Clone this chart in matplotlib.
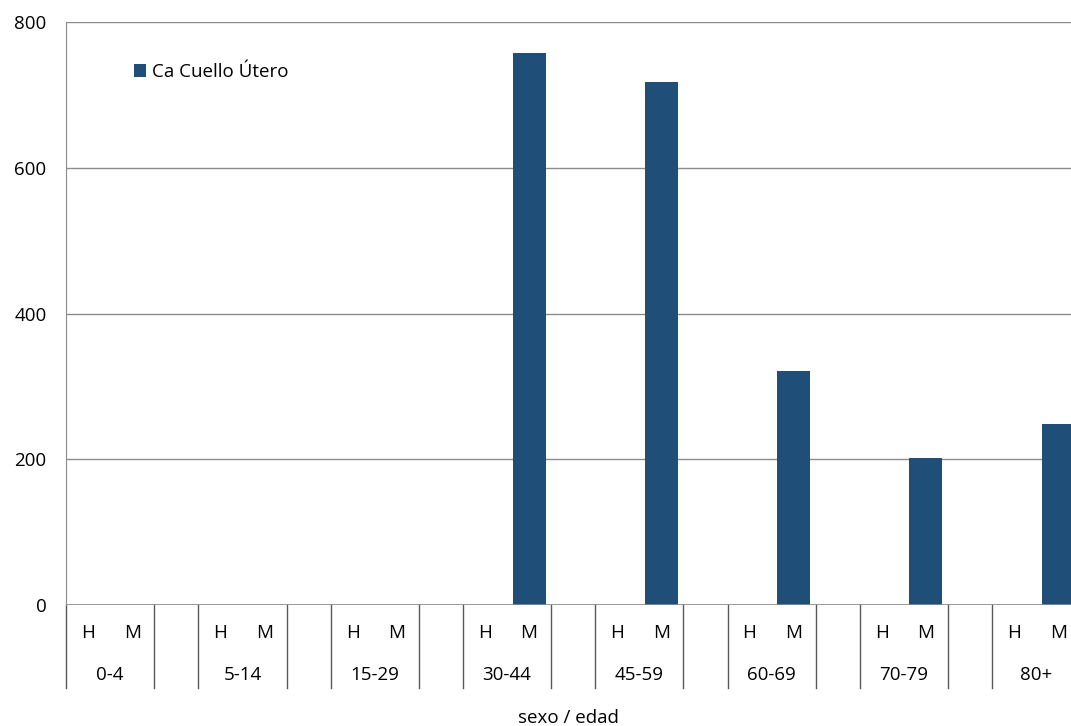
import numpy as np
import matplotlib.pyplot as plt
import matplotlib.transforms as mtransforms

# Data
grupos = ["0-4", "5-14", "15-29", "30-44", "45-59", "60-69", "70-79", "80+"]
sexos = ["H", "M"]
valores_h = [0, 0, 0, 0, 0, 0, 0, 0]
valores_m = [0, 0, 0, 757, 718, 321, 202, 248]

COLOR = "#1F4E79"
FONT = ["Open Sans", "DejaVu Sans"]
FS = 13.5
W, H = 1071, 726

plt.rcParams["font.family"] = FONT

fig = plt.figure(figsize=(W / 100, H / 100), dpi=100)
left_px, right_px, top_px, base_px = 66, 1071, 22, 605
ax = fig.add_axes([left_px / W, (H - base_px) / H,
                   (right_px - left_px) / W, (base_px - top_px) / H])

slot = 44.1
n_slots = (right_px - left_px) / slot
x_h = np.arange(len(grupos)) * 3 + 0.5
x_m = x_h + 1

ax.bar(x_h, valores_h, width=0.75, color=COLOR, zorder=3)
ax.bar(x_m, valores_m, width=0.75, color=COLOR, zorder=3,
       label="Ca Cuello Útero")

ax.set_xlim(0, n_slots)
ax.set_ylim(0, 800)
ax.set_yticks([0, 200, 400, 600, 800])
ax.tick_params(axis="y", length=0, labelsize=FS, pad=14, colors="black")
for lbl in ax.get_yticklabels():
    lbl.set_va("center_baseline")
ax.set_xticks([])
ax.yaxis.grid(True, color="#8c8c8c", linewidth=1)
ax.set_axisbelow(True)
for s in ["top", "right", "bottom"]:
    ax.spines[s].set_visible(False)
ax.spines["left"].set_color("#8c8c8c")
ax.axhline(0, color="#8c8c8c", linewidth=1.2, zorder=4)

trans = mtransforms.blended_transform_factory(ax.transData, ax.transAxes)
span = base_px - top_px
y_low = -(688 - base_px) / span
y_sex = -(633 - base_px) / span
y_grp = -(675 - base_px) / span

# separators under the axis
for i in range(len(grupos)):
    for xs in (i * 3, i * 3 + 2):
        ax.plot([xs, xs], [0, y_low], transform=trans, color="#595959",
                linewidth=1, clip_on=False)

for i, g in enumerate(grupos):
    ax.text(x_h[i], y_sex, sexos[0], transform=trans, ha="center", va="center",
            fontsize=FS, clip_on=False)
    ax.text(x_m[i], y_sex, sexos[1], transform=trans, ha="center", va="center",
            fontsize=FS, clip_on=False)
    ax.text(i * 3 + 1, y_grp, g, transform=trans, ha="center", va="center",
            fontsize=FS, clip_on=False)

ax.text(0.5, -(718 - base_px) / span, "sexo / edad", transform=ax.transAxes,
        ha="center", va="center", fontsize=FS)

ax.legend(loc="center left",
          bbox_to_anchor=((134 - left_px) / (right_px - left_px),
                          1 - (72 - top_px) / span),
          frameon=False, fontsize=FS, handlelength=0.65, handleheight=0.65,
          handletextpad=0.3, borderpad=0, borderaxespad=0)

fig.savefig("out.png", dpi=100)
